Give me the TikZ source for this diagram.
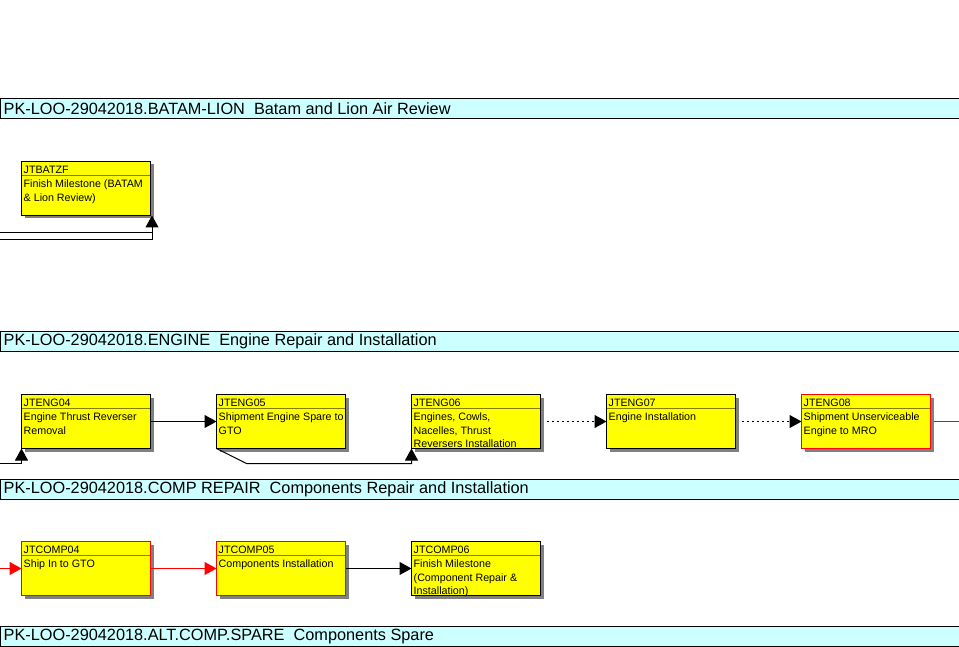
\documentclass[tikz,border=0pt]{standalone}
\usepackage{fontspec}
\setmainfont{Liberation Sans}
\usetikzlibrary{arrows.meta,shadows}
\definecolor{bandcyan}{HTML}{CCFFFF}
\definecolor{boxyellow}{HTML}{FFFF00}
\definecolor{shadowgray}{HTML}{808080}
\definecolor{dividerolive}{HTML}{808000}
\tikzset{
 actbox/.style={draw=black, line width=1pt, fill=boxyellow, minimum width=129pt, minimum height=54pt, inner sep=0pt, outer sep=0pt, anchor=north west, drop shadow={shadow xshift=3pt, shadow yshift=-3pt, fill=shadowgray, draw=none, opacity=1}},
 critbox/.style={actbox, draw=red},
 divider/.style={draw=dividerolive, line width=1pt, shorten <=0.5pt, shorten >=0.5pt},
 idtext/.style={anchor=west, inner sep=0pt, font=\fontsize{10.7}{12}\selectfont},
 bodytext/.style={anchor=north west, inner sep=0pt, align=left, font=\fontsize{10.7}{13.6}\selectfont},
 bandbox/.style={draw=black, line width=1pt, fill=bandcyan},
 bandtext/.style={anchor=west, inner sep=0pt, font=\fontsize{16.3}{18}\selectfont},
 link/.style={draw=black, line width=1pt, -{Triangle[width=13pt,length=12pt]}},
 critlink/.style={draw=red, line width=1pt, -{Triangle[width=13pt,length=12pt,color=red]}},
 plainlink/.style={draw=black, line width=1pt},
 critline/.style={draw=red, line width=1.2pt},
 dotlink/.style={link, dash pattern=on 2pt off 3pt},
}
\newcommand{\actnode}[6]{%
 \node[#2] (#1) at (#3,#4) {};
 \draw[divider] ([yshift=-14pt]#1.north west) -- ([yshift=-14pt]#1.north east);
 \node[idtext] (#1-id) at ([xshift=2pt,yshift=-8pt]#1.north west) {#5};
 \node[bodytext] (#1-tx) at ([xshift=2pt,yshift=-18pt]#1.north west) {#6};
}
\newcommand{\bandrow}[3]{%
 \draw[bandbox] (0.5,#2) rectangle (975,#2+20);
 \node[bandtext] (#1) at (3.5,#2+10) {#3};
}
\begin{document}
\begin{tikzpicture}[x=1pt,y=-1pt]
\useasboundingbox (0,0) rectangle (959,647);
\clip (0,0) rectangle (959,647);
\fill[white] (0,0) rectangle (959,647);

% bands
\bandrow{band1}{98.5}{PK-LOO-29042018.BATAM-LION\ \ Batam and Lion Air Review}
\bandrow{band2}{331.5}{PK-LOO-29042018.ENGINE\ \ Engine Repair and Installation}
\bandrow{band3}{479.5}{PK-LOO-29042018.COMP REPAIR\ \ Components Repair and Installation}
\bandrow{band4}{626.5}{PK-LOO-29042018.ALT.COMP.SPARE\ \ Components Spare}

% activities
\actnode{BATZF}{actbox}{21.5}{161.5}{JTBATZF}{Finish Milestone (BATAM\\\& Lion Review)}
\actnode{ENG04}{actbox}{21.5}{394.5}{JTENG04}{Engine Thrust Reverser\\Removal}
\actnode{ENG05}{actbox}{216.5}{394.5}{JTENG05}{Shipment Engine Spare to\\GTO}
\actnode{ENG06}{actbox}{411.5}{394.5}{JTENG06}{Engines, Cowls,\\Nacelles, Thrust\\Reversers Installation}
\actnode{ENG07}{actbox}{606.5}{394.5}{JTENG07}{Engine Installation}
\actnode{ENG08}{critbox}{801.5}{394.5}{JTENG08}{Shipment Unserviceable\\Engine to MRO}
\actnode{COMP04}{critbox}{21.5}{541.5}{JTCOMP04}{Ship In to GTO}
\actnode{COMP05}{critbox}{216.5}{541.5}{JTCOMP05}{Components Installation}
\actnode{COMP06}{actbox}{411.5}{541.5}{JTCOMP06}{Finish Milestone\\(Component Repair \&\\Installation)}

% connectors
\coordinate (bzA) at (0,233);
\coordinate (bzB) at (0,240);
\coordinate (bzC) at (152,240);
\draw[plainlink] (bzA) -- (bzA -| bzC);
\draw[link] (bzB) -- (bzC) -- ([xshift=1.5pt]BATZF.south east);

\coordinate (e4in) at (0,463.5);
\draw[link] (e4in) -| (ENG04.south west);
\draw[link] (ENG04.east) -- (ENG05.west);
\draw[link] (ENG05.south west) -- ++(30pt,-15pt) -| (ENG06.south west);
\draw[dotlink] ([xshift=6pt]ENG06.east) -- (ENG07.west);
\draw[dotlink] ([xshift=6pt]ENG07.east) -- (ENG08.west);
\coordinate (rightedge) at (975,0);
\draw[critline] ([xshift=3.5pt]ENG08.east) -- (ENG08.east -| rightedge);

\coordinate (c4in) at (0,568.5);
\draw[critlink] (c4in) -- (COMP04.west);
\draw[critlink] (COMP04.east) -- (COMP05.west);
\draw[link] (COMP05.east) -- (COMP06.west);
\end{tikzpicture}
\end{document}
